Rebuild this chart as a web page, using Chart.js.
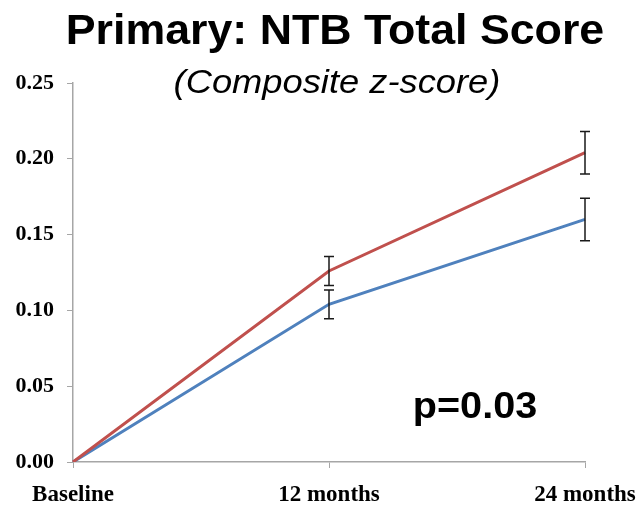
<!DOCTYPE html>
<html>
<head>
<meta charset="utf-8">
<script src="https://cdn.jsdelivr.net/npm/chart.js@4.4.0/dist/chart.umd.min.js"></script>
<style>
  html, body { margin: 0; padding: 0; background: #fff; }
  #wrap { width: 641px; height: 506px; position: relative; }
</style>
</head>
<body>
<div id="wrap"><canvas id="chart_canvas"></canvas></div>
<script>
// values
var timePoints = ['Baseline', '12 months', '24 months'];
var redValues = [0, 0.126, 0.204];
var redErrors = [0, 0.0095, 0.014];
var blueValues = [0, 0.104, 0.160];
var blueErrors = [0, 0.0095, 0.014];
var yTicks = [0, 0.05, 0.10, 0.15, 0.20, 0.25];

var axisGray = '#a6a6a6';

// error bars, drawn through the chart scales
var errorBars = {
    id: 'errorBars',
    afterDatasetsDraw: function (chart) {
        var ctx = chart.ctx;
        var x = chart.scales.x, y = chart.scales.y;
        chart.data.datasets.forEach(function (ds) {
            for (var i = 0; i < ds.data.length; i++) {
                var err = ds.errors[i];
                if (!err) continue;
                var px = x.getPixelForValue(i);
                var top = y.getPixelForValue(ds.data[i] + err);
                var bot = y.getPixelForValue(ds.data[i] - err);
                ctx.save();
                ctx.strokeStyle = '#1a1a1a';
                ctx.lineWidth = 1.5;
                ctx.beginPath();
                ctx.moveTo(px, top); ctx.lineTo(px, bot);
                ctx.moveTo(px - 5, top); ctx.lineTo(px + 5, top);
                ctx.moveTo(px - 5, bot); ctx.lineTo(px + 5, bot);
                ctx.stroke();
                ctx.restore();
            }
        });
    }
};

// heading texts and p value
function stretchedText(ctx, text, x, y, font, sx) {
    ctx.save();
    ctx.font = font;
    ctx.translate(x, y);
    ctx.scale(sx, 1);
    ctx.fillText(text, 0, 0);
    ctx.restore();
}
var texts = {
    id: 'texts',
    afterDraw: function (chart) {
        var ctx = chart.ctx;
        ctx.save();
        ctx.fillStyle = '#000';
        ctx.textAlign = 'center';
        ctx.textBaseline = 'alphabetic';
        stretchedText(ctx, 'Primary: NTB Total Score', 335, 44, 'bold 43px "Liberation Sans", Arial', 1.04);
        stretchedText(ctx, '(Composite z-score)', 337, 93, 'italic 33px "Liberation Sans", Arial', 1.1);
        stretchedText(ctx, 'p=0.03', 475, 418, 'bold 36px "Liberation Sans", Arial', 1.1);
        ctx.restore();
    }
};

var myChart = new Chart('chart_canvas', {
    type: 'line',
    data: {
        labels: timePoints,
        datasets: [{
                label: 'red',
                data: redValues,
                errors: redErrors,
                borderColor: '#c0504d',
                borderWidth: 3,
                pointRadius: 0,
                tension: 0
            }, {
                label: 'blue',
                data: blueValues,
                errors: blueErrors,
                borderColor: '#4f81bd',
                borderWidth: 3,
                pointRadius: 0,
                tension: 0
            }]
    },
    options: {
        responsive: true,
        maintainAspectRatio: false,
        animation: false,
        layout: { padding: { top: 83, right: 56, left: 0, bottom: 0 } },
        plugins: {
            legend: { display: false },
            tooltip: { enabled: false }
        },
        scales: {
            x: {
                offset: false,
                grid: { drawOnChartArea: false, color: axisGray, tickLength: 6 },
                border: { color: axisGray, width: 1.5 },
                ticks: {
                    color: '#000',
                    font: { family: 'Liberation Serif', size: 23, weight: 'bold' },
                    padding: 13,
                    maxRotation: 0
                },
                afterFit: function (scale) {
                    scale.height = 44;
                    scale.paddingLeft = 0;
                    scale.paddingRight = 0;
                }
            },
            y: {
                min: 0,
                max: 0.25,
                afterBuildTicks: function (scale) {
                    scale.ticks = yTicks.map(function (v) { return { value: v }; });
                },
                grid: { drawOnChartArea: false, color: axisGray, tickLength: 6 },
                border: { color: axisGray, width: 1.5 },
                ticks: {
                    color: '#000',
                    font: { family: 'Liberation Serif', size: 22, weight: 'bold' },
                    padding: 13,
                    callback: function (v) { return v.toFixed(2); }
                },
                afterFit: function (scale) { scale.width = 73; }
            }
        }
    },
    plugins: [errorBars, texts]
});
</script>
</body>
</html>
